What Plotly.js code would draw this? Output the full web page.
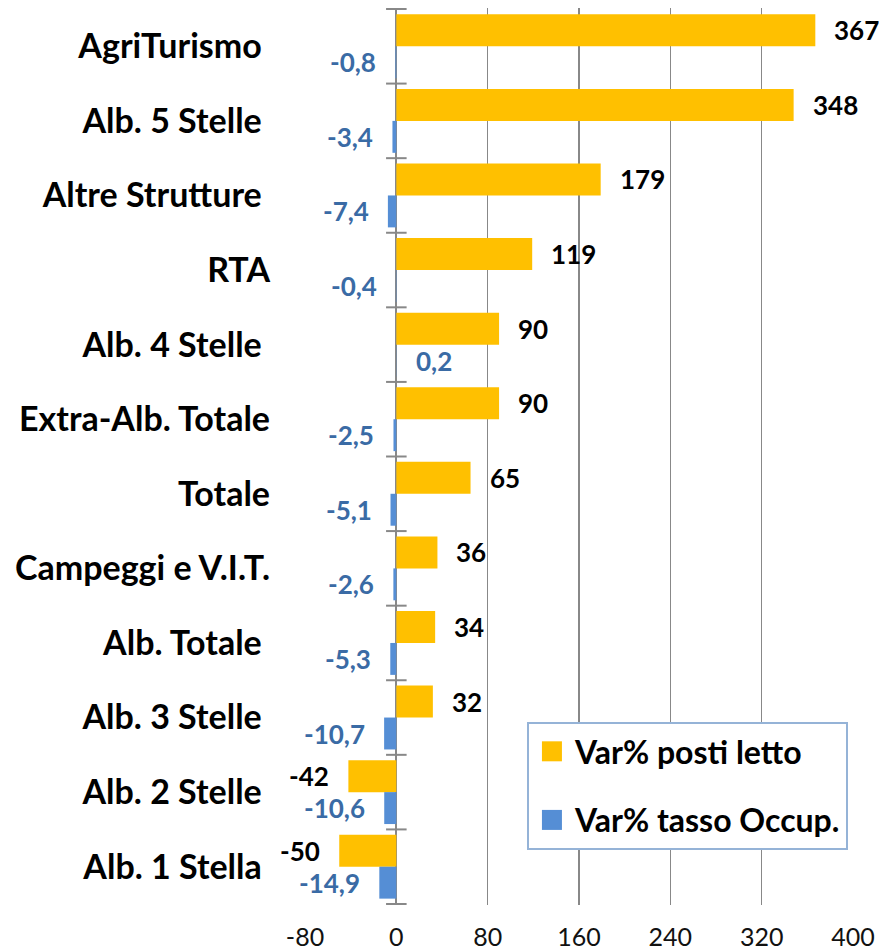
<!DOCTYPE html>
<html>
<head>
<meta charset="utf-8">
<script src="https://cdn.plot.ly/plotly-3.0.1.min.js"></script>
<style>html,body{margin:0;padding:0;background:#fff;}#chart{width:879px;height:951px;}</style>
</head>
<body>
<div id="chart"></div>
<script>
const categories = ["AgriTurismo\u00a0", "Alb. 5 Stelle\u00a0", "Altre Strutture\u00a0", "RTA", "Alb. 4 Stelle\u00a0", "Extra-Alb. Totale", "Totale", "Campeggi e V.I.T.", "Alb. Totale\u00a0", "Alb. 3 Stelle\u00a0", "Alb. 2 Stelle\u00a0", "Alb. 1 Stella\u00a0"];
const postiLetto = [367, 348, 179, 119, 90, 90, 65, 36, 34, 32, -42, -50];
const tassoOccup = [-0.8, -3.4, -7.4, -0.4, 0.2, -2.5, -5.1, -2.6, -5.3, -10.7, -10.6, -14.9];
const xTicks = [-80, 0, 80, 160, 240, 320, 400];
const seriesNames = ["Var% posti letto", "Var% tasso Occup."];

const W = 879, H = 951;
const margin = {l: 305, r: 26, t: 8, b: 46};
const bargap = 0.144;
const FONT = "Lato, 'Open Sans', sans-serif";
const YELLOW = "#FFC000", BLUE = "#558ED5", BLUE_TXT = "#3A6BA5";

const plotH = H - margin.t - margin.b;
const bandPx = plotH / categories.length;
const barPx = bandPx * (1 - bargap) / 2;
const fmt = v => String(v).replace('.', ',');

const traces = [
  {type: 'bar', orientation: 'h', name: seriesNames[0], y: categories, x: postiLetto,
   marker: {color: YELLOW}, legendgroup: 'a', hoverinfo: 'x+y'},
  {type: 'bar', orientation: 'h', name: seriesNames[1], y: categories, x: tassoOccup,
   marker: {color: BLUE}, legendgroup: 'b', hoverinfo: 'x+y'}
];

const annotations = [];
const pad = 17;
postiLetto.forEach((v, i) => {
  annotations.push({x: v, y: categories[i], xref: 'x', yref: 'y', text: fmt(v), showarrow: false,
    xanchor: v >= 0 ? 'left' : 'right', xshift: v >= 0 ? pad : -pad, yshift: barPx / 2,
    font: {family: FONT, size: 26, color: '#000', weight: 'bold'}});
});
tassoOccup.forEach((v, i) => {
  annotations.push({x: v, y: categories[i], xref: 'x', yref: 'y', text: fmt(v), showarrow: false,
    xanchor: v >= 0 ? 'left' : 'right', xshift: v >= 0 ? pad : -pad, yshift: -barPx / 2,
    font: {family: FONT, size: 26, color: BLUE_TXT, weight: 'bold'}});
});

// tick marks on the zero line at category boundaries
const shapes = [];
for (let i = 0; i <= categories.length; i++) {
  shapes.push({type: 'line', xref: 'x', yref: 'y', x0: -9, x1: 9, y0: i - 0.5, y1: i - 0.5,
    line: {color: '#888888', width: 2}});
}

const layout = {
  width: W, height: H, margin: margin,
  paper_bgcolor: '#fff', plot_bgcolor: '#fff',
  barmode: 'group', bargap: bargap, bargroupgap: 0,
  font: {family: FONT, color: '#000'},
  showlegend: true,
  legend: {x: 0.405, y: 0.204, xanchor: 'left', yanchor: 'top',
    bordercolor: '#95B3D7', borderwidth: 2, bgcolor: '#fff',
    font: {family: FONT, size: 32, color: '#000', weight: 'bold'},
    traceorder: 'grouped', tracegroupgap: 24, itemwidth: 36},
  xaxis: {range: [-80, 400], tickvals: xTicks, ticktext: xTicks.map(String),
    showgrid: true, gridcolor: '#888888', gridwidth: 1.5,
    zeroline: true, zerolinecolor: '#888888', zerolinewidth: 2,
    showline: false, ticks: '', ticklabelstandoff: 15,
    tickfont: {family: FONT, size: 25, color: '#111'}, fixedrange: true},
  yaxis: {type: 'category', autorange: 'reversed', showgrid: false, zeroline: false,
    showline: false, ticks: '', ticklabelstandoff: 34,
    tickfont: {family: FONT, size: 34, color: '#000', weight: 'bold'}, fixedrange: true},
  annotations: annotations,
  shapes: shapes
};

function enlargeSwatches(gd) {
  gd.querySelectorAll('g.legend g.legendpoints path').forEach(p => {
    p.setAttribute('d', 'M10,10H-10V-10H10Z');
  });
}

Plotly.newPlot('chart', traces, layout, {displayModeBar: false, staticPlot: true}).then(gd => {
  enlargeSwatches(gd);
  setTimeout(() => enlargeSwatches(gd), 50);
});
</script>
</body>
</html>
